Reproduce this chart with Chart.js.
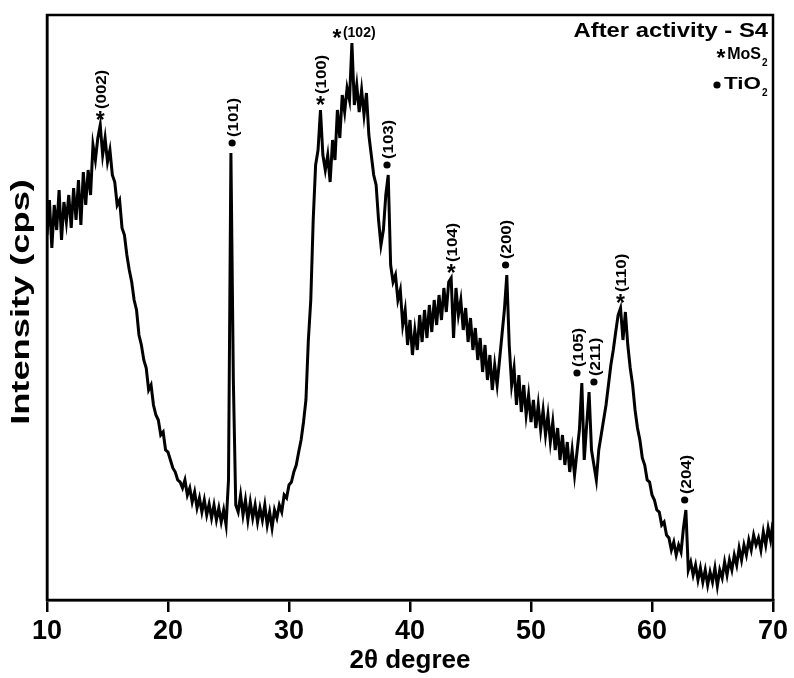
<!DOCTYPE html>
<html>
<head>
<meta charset="utf-8">
<script src="https://cdn.jsdelivr.net/npm/chart.js@4.4.1/dist/chart.umd.min.js"></script>
<style>
  html, body { margin: 0; padding: 0; background: #fff; overflow: hidden; }
  #wrap { width: 794px; height: 678px; position: relative; }
</style>
</head>
<body>
<div id="wrap"><canvas id="grafico"></canvas></div>
<script>
// =====================================================
// DATA - XRD pattern, after activity (S4)
// =====================================================
const START_ANGLE = 10;   // 2theta of first reading
const STEP = 0.2;         // sampling step

// intensity (arbitrary cps scale), 0.2 deg apart
const intensity10to20 = [
  365, 400, 352, 395, 370, 410, 360, 398, 378, 405,
  372, 412, 380, 420, 375, 428, 395, 430, 405, 455,
  440, 462, 475, 445, 462, 438, 450, 425, 418, 395,
  400, 372, 365, 345, 330, 318, 300, 290, 265, 255,
  240, 232, 210, 215, 195, 185, 180, 165, 168, 150
];
const intensity20to30 = [
  148, 140, 132, 128, 120, 118, 112, 120, 105, 112,
  98, 108, 92, 102, 88, 100, 85, 96, 82, 95,
  80, 92, 78, 90, 75, 120, 447, 220, 95, 88,
  105, 85, 100, 80, 98, 82, 95, 78, 92, 80,
  95, 75, 88, 72, 90, 82, 95, 88, 105, 102
];
const intensity30to40 = [
  115, 118, 128, 135, 148, 160, 178, 200, 260, 300,
  380, 435, 450, 490, 445, 430, 445, 418, 460, 440,
  490, 462, 505, 488, 512, 500, 557, 495, 515, 488,
  510, 485, 507, 465, 445, 425, 415, 380, 355, 370,
  405, 425, 335, 318, 325, 300, 310, 275, 290, 255
];
const intensity40to50 = [
  280, 245, 270, 250, 285, 258, 290, 262, 295, 268,
  300, 275, 305, 280, 312, 288, 318, 322, 262, 312,
  285, 300, 270, 292, 258, 282, 250, 272, 240, 262,
  228, 255, 220, 245, 210, 235, 215, 240, 265, 290,
  325, 255, 215, 232, 195, 225, 188, 215, 185, 205
];
const intensity50to60 = [
  178, 200, 172, 195, 170, 190, 165, 185, 158, 178,
  150, 172, 140, 165, 135, 158, 128, 150, 125, 148,
  170, 217, 140, 175, 208, 150, 135, 120, 150, 165,
  180, 195, 215, 235, 250, 268, 285, 292, 260, 288,
  255, 232, 215, 190, 172, 160, 142, 135, 120, 118
];
const intensity60to70 = [
  105, 100, 90, 88, 75, 78, 65, 62, 50, 58,
  45, 55, 48, 72, 90, 30, 38, 25, 35, 20,
  32, 18, 30, 15, 28, 18, 32, 14, 30, 22,
  38, 25, 40, 30, 45, 35, 52, 40, 55, 45,
  60, 50, 65, 55, 62, 50, 68, 55, 72, 60, 78
];

// reflections (label position in 2theta, hkl, phase)
const peakAngles = [14.4, 25.3, 32.6, 35.2, 38.1, 43.4, 47.9, 53.8, 55.2, 57.4, 62.7];
const peakHkl = ["(002)", "(101)", "(100)", "(102)", "(103)", "(104)", "(200)", "(105)", "(211)", "(110)", "(204)"];
const peakPhase = ["MoS2", "TiO2", "MoS2", "MoS2", "TiO2", "MoS2", "TiO2", "TiO2", "TiO2", "MoS2", "TiO2"];

const xTicks = [10, 20, 30, 40, 50, 60, 70];

const intensity = [].concat(
  intensity10to20, intensity20to30, intensity30to40,
  intensity40to50, intensity50to60, intensity60to70
);
const angles = intensity.map((_, i) => +(START_ANGLE + i * STEP).toFixed(1));

const FONT = "'Liberation Sans', Arial, Helvetica, sans-serif";
Chart.defaults.font.family = FONT;
Chart.defaults.color = "#000";

// =====================================================
// TEXT HELPER (bold, optionally stretched / rotated)
// =====================================================
function texto(ctx, str, x, y, size, o = {}) {
  ctx.save();
  ctx.translate(x, y);
  if (o.rot) ctx.rotate(o.rot);
  ctx.scale(o.sx || 1, 1);
  ctx.font = `bold ${size}px ${FONT}`;
  ctx.fillStyle = "#000";
  ctx.textAlign = o.align || "left";
  ctx.textBaseline = o.base || "middle";
  ctx.fillText(str, 0, 0);
  ctx.restore();
}

// marcador: * (MoS2) ou bolinha (TiO2), centrado em (x, y)
function marcador(ctx, fase, x, y) {
  if (fase === "MoS2") {
    // asterisco: glifo fica alto na caixa, desce ~0.58em
    texto(ctx, "*", x, y + 13, 23, { align: "center", base: "alphabetic" });
  } else {
    ctx.save();
    ctx.fillStyle = "#000";
    ctx.beginPath();
    ctx.arc(x, y, 3.6, 0, Math.PI * 2);
    ctx.fill();
    ctx.restore();
  }
}

// pico local perto de um angulo
function picoLocal(ang, janela) {
  let m = -Infinity;
  angles.forEach((a, i) => {
    if (Math.abs(a - ang) <= janela + 1e-6) m = Math.max(m, intensity[i]);
  });
  return m;
}

// =====================================================
// PLUGIN: moldura, rotulos dos picos, legenda, titulo Y
// =====================================================
const extras = {
  id: "extras",
  afterDraw(chart) {
    const { ctx, chartArea: ca, scales: { x, y } } = chart;

    // frame
    ctx.save();
    ctx.strokeStyle = "#000";
    ctx.lineWidth = 2.5;
    ctx.strokeRect(ca.left, ca.top, ca.right - ca.left, ca.bottom - ca.top);
    ctx.restore();

    // peak labels
    peakAngles.forEach((ang, k) => {
      const px = x.getPixelForValue(ang);
      const py = y.getPixelForValue(picoLocal(ang, 0.4));
      if (peakHkl[k] === "(102)") {
        marcador(ctx, peakPhase[k], px - 15, py - 10);
        texto(ctx, peakHkl[k], px - 9, py - 10, 14, { align: "left", sx: 1.0 });
        return;
      }
      marcador(ctx, peakPhase[k], px, py - 10);
      texto(ctx, peakHkl[k], px + 2, py - 16, 14, { rot: -Math.PI / 2, sx: 1.2 });
    });

    // legend / sample name
    texto(ctx, "After activity - S4", 768, 31, 20, { align: "right", sx: 1.19 });
    marcador(ctx, "MoS2", 721, 53);
    texto(ctx, "MoS", 761, 55, 16, { align: "right", sx: 1.0 });
    texto(ctx, "2", 762, 63, 10, {});
    marcador(ctx, "TiO2", 717, 85);
    texto(ctx, "TiO", 761, 85, 16, { align: "right", sx: 1.4 });
    texto(ctx, "2", 762, 93, 10, {});

    // y title
    texto(ctx, "Intensity (cps)", 22, 302, 25, { rot: -Math.PI / 2, align: "center", sx: 1.45 });
  }
};

// =====================================================
// GRAFICO
// =====================================================
const grafico = new Chart(document.getElementById("grafico"), {
  type: "line",
  data: {
    datasets: [{
      label: "S4",
      data: angles.map((a, i) => ({ x: a, y: intensity[i] })),
      borderColor: "#000",
      borderWidth: 3,
      pointRadius: 0,
      tension: 0,
      fill: false
    }]
  },
  options: {
    responsive: true,
    maintainAspectRatio: false,
    animation: false,
    layout: { padding: { top: 15, right: 21, left: 0, bottom: 0 } },
    plugins: { legend: { display: false }, tooltip: { enabled: false } },
    scales: {
      x: {
        type: "linear",
        min: xTicks[0],
        max: xTicks[xTicks.length - 1],
        afterBuildTicks: s => { s.ticks = xTicks.map(v => ({ value: v })); },
        afterFit: s => { s.height = 78; },
        ticks: {
          font: { size: 27, weight: "bold" },
          color: "#000",
          padding: 3,
          maxRotation: 0,
          autoSkip: false
        },
        grid: { drawOnChartArea: false, drawTicks: true, tickLength: 12, color: "#000", lineWidth: 2.5 },
        border: { display: true, color: "#000", width: 2.5 },
        title: {
          display: true,
          text: "2\u03b8 degree",
          font: { size: 26, weight: "bold" },
          color: "#000",
          padding: { top: 0, bottom: 2 }
        }
      },
      y: {
        min: 0,
        max: 585,
        afterFit: s => { s.width = 47; },
        ticks: { display: false },
        grid: { display: false },
        border: { display: true, color: "#000", width: 2.5 }
      }
    }
  },
  plugins: [extras]
});
</script>
</body>
</html>
